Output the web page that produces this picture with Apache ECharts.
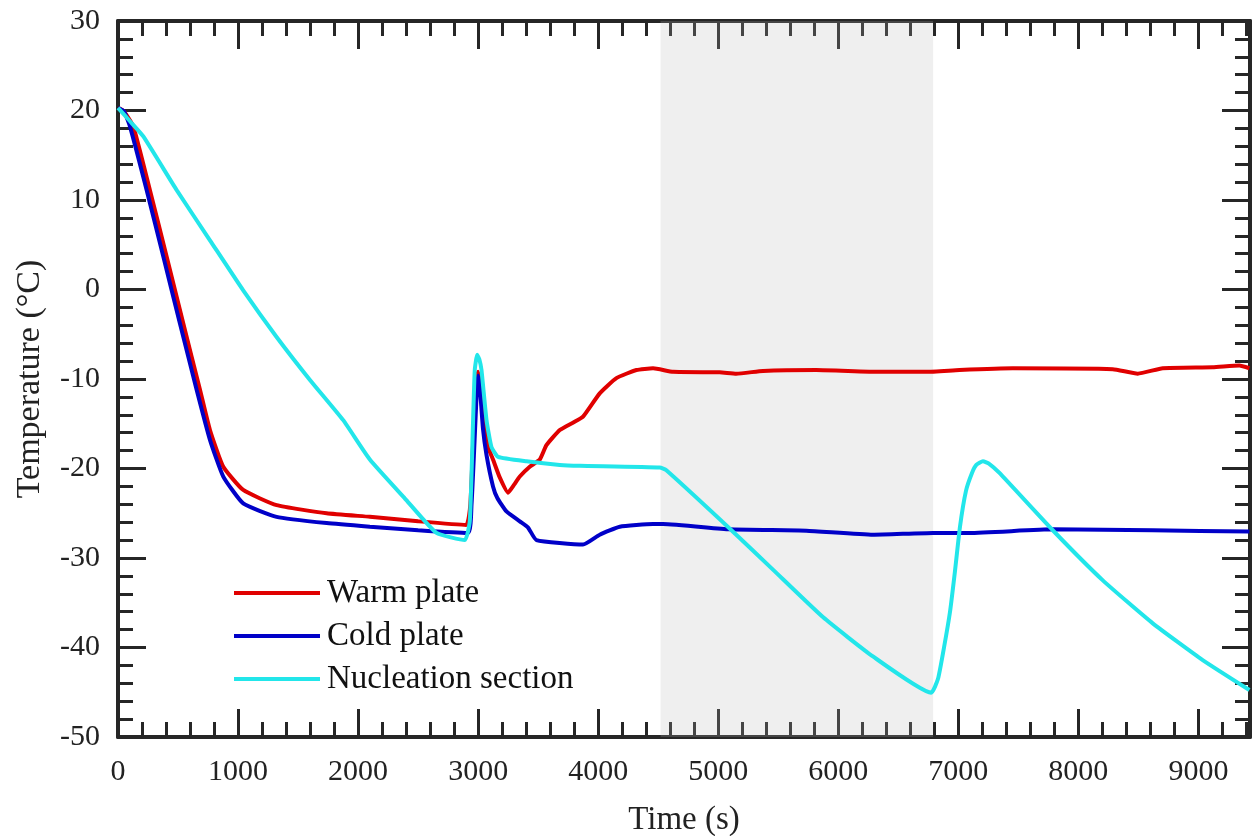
<!DOCTYPE html>
<html>
<head>
<meta charset="utf-8">
<script src="https://cdn.jsdelivr.net/npm/echarts@6/dist/echarts.min.js"></script>
<style>
    html, body { margin: 0; padding: 0; background: #fff; }
    #chart { width: 1254px; height: 836px; }
</style>
</head>
<body>
<div id="chart"></div>
<script>
    const seriesNames = ['Warm plate', 'Cold plate', 'Nucleation section'];
    const seriesColors = ['#e00000', '#0000c8', '#22e6ea'];

    // time (s) / temperature (°C)
    const warmTime = [0, 50, 128, 266, 405, 544, 683, 766, 877, 1043, 1321, 1738, 2098, 2500, 2900, 2935, 2965, 2990, 3000, 3015, 3045, 3083, 3124, 3180, 3249, 3300, 3347, 3430, 3514, 3569, 3680, 3800, 3874, 4013, 4152, 4319, 4457, 4624, 5012, 5151, 5373, 5817, 6344, 6733, 7010, 7454, 8287, 8495, 8703, 9119, 9341, 9425];
    const warmTemp = [20.3, 19.9, 18.2, 11.1, 3.7, -3.8, -11.2, -15.7, -19.8, -22.4, -24.1, -25.0, -25.4, -25.9, -26.3, -24, -15, -10, -9.2, -10.5, -14.5, -17.6, -19.0, -21, -22.7, -21.8, -20.9, -19.8, -19.0, -17.4, -15.7, -14.8, -14.2, -11.6, -9.9, -9.0, -8.8, -9.2, -9.25, -9.4, -9.1, -9.0, -9.2, -9.2, -9.0, -8.8, -8.9, -9.4, -8.8, -8.7, -8.5, -8.8];

    const coldTime = [0, 50, 100, 239, 377, 516, 655, 766, 877, 1043, 1321, 1738, 2098, 2500, 2917, 2945, 2970, 2990, 3000, 3015, 3040, 3070, 3124, 3160, 3236, 3347, 3416, 3486, 3874, 4013, 4180, 4457, 4540, 5095, 5734, 6289, 6789, 7094, 7787, 8620, 9425];
    const coldTemp = [20.3, 19.9, 18.2, 11.1, 3.7, -3.8, -11.2, -16.8, -20.9, -23.9, -25.4, -26.1, -26.5, -26.9, -27.2, -24, -17, -11, -9.6, -11, -15.5, -18.5, -22.0, -23.3, -24.8, -25.9, -26.6, -28.0, -28.5, -27.4, -26.5, -26.2, -26.2, -26.8, -26.95, -27.4, -27.2, -27.2, -26.8, -26.9, -27.05];

    const nuclTime = [0, 100, 211, 489, 766, 1043, 1321, 1599, 1876, 2098, 2400, 2653, 2889, 2931, 2958, 2972, 2992, 3010, 3028, 3070, 3111, 3167, 3403, 3680, 3847, 4513, 4568, 5095, 5456, 5872, 6289, 6774, 6831, 6881, 6931, 6972, 7014, 7064, 7114, 7150, 7205, 7260, 7343, 7787, 8204, 8620, 9036, 9425];
    const nuclTemp = [20.3, 18.8, 17.1, 11.1, 5.5, -0.1, -5.3, -10.1, -14.6, -19.0, -23.5, -27.2, -28.0, -25.8, -14.6, -9.0, -7.3, -7.8, -9.0, -14.6, -17.6, -18.7, -19.2, -19.6, -19.7, -19.9, -20.2, -26.7, -31.3, -36.6, -41.0, -45.05, -43.5, -40, -36, -31.5, -26.5, -22.5, -20.5, -19.6, -19.2, -19.5, -20.5, -26.9, -32.5, -37.3, -41.4, -44.75];

    // shaded time window
    const bandStart = 4520;
    const bandEnd = 6790;

    const xMax = 9430;
    const fontFamily = '"Liberation Serif", "Times New Roman", serif';
    const axisColor = '#262626';

    function zip(ts, vs) {
        return ts.map((t, i) => [t, vs[i]]);
    }

    function makeXAxis(position, major) {
        return {
            type: 'value',
            position: position,
            min: 0,
            max: xMax,
            interval: major ? 1000 : 200,
            axisLine: { show: major, onZero: false, lineStyle: { color: axisColor, width: 4 } },
            axisTick: { show: true, inside: true, length: major ? 28 : 15, lineStyle: { color: axisColor, width: 3 } },
            axisLabel: {
                show: major && position === 'bottom',
                showMaxLabel: false,
                margin: 20,
                formatter: (v) => String(v),
                fontFamily: fontFamily,
                fontSize: 30,
                color: '#222',
            },
            splitLine: { show: false },
            name: major && position === 'bottom' ? 'Time (s)' : '',
            nameLocation: 'middle',
            nameGap: 67,
            nameTextStyle: { fontFamily: fontFamily, fontSize: 33, color: '#222' },
        };
    }

    function makeYAxis(position) {
        return {
            type: 'value',
            position: position,
            min: -50,
            max: 30,
            interval: 10,
            axisLine: { show: true, onZero: false, lineStyle: { color: axisColor, width: 4 } },
            axisTick: { show: true, inside: true, length: 28, lineStyle: { color: axisColor, width: 3 } },
            minorTick: { show: true, splitNumber: 5, length: 15, lineStyle: { color: axisColor, width: 3 } },
            axisLabel: {
                show: position === 'left',
                margin: 18,
                fontFamily: fontFamily,
                fontSize: 30,
                color: '#222',
            },
            splitLine: { show: false },
            minorSplitLine: { show: false },
            name: position === 'left' ? 'Temperature (°C)' : '',
            nameLocation: 'middle',
            nameGap: 71,
            nameRotate: 90,
            nameTextStyle: { fontFamily: fontFamily, fontSize: 34, color: '#222' },
        };
    }

    function lineSeries(name, color, data, z) {
        return {
            name: name,
            type: 'line',
            data: data,
            showSymbol: false,
            symbol: 'none',
            smooth: 0.15,
            z: z,
            lineStyle: { color: color, width: 4 },
            itemStyle: { color: color },
        };
    }

    const chart = echarts.init(document.getElementById('chart'), null, { renderer: 'canvas' });

    chart.setOption({
        animation: false,
        backgroundColor: '#fff',
        grid: { left: 118, right: 4, top: 21, bottom: 99, containLabel: false, outerBoundsMode: 'none' },
        legend: {
            data: seriesNames,
            orient: 'vertical',
            left: 234,
            top: 576,
            padding: 0,
            icon: 'rect',
            itemWidth: 86,
            itemHeight: 4,
            itemGap: 9,
            textStyle: { fontFamily: fontFamily, fontSize: 33, color: '#111', lineHeight: 34, padding: [0, 0, 0, 2] },
        },
        xAxis: [
            makeXAxis('bottom', true),
            makeXAxis('bottom', false),
            makeXAxis('top', true),
            makeXAxis('top', false),
        ],
        yAxis: [makeYAxis('left'), makeYAxis('right')],
        series: [
            lineSeries(seriesNames[0], seriesColors[0], zip(warmTime, warmTemp), 2),
            lineSeries(seriesNames[1], seriesColors[1], zip(coldTime, coldTemp), 2),
            {
                name: 'band',
                type: 'line',
                data: [],
                z: 3,
                silent: true,
                markArea: {
                    silent: true,
                    itemStyle: { color: 'rgba(180,180,180,0.22)' },
                    data: [[{ xAxis: bandStart }, { xAxis: bandEnd }]],
                },
            },
            lineSeries(seriesNames[2], seriesColors[2], zip(nuclTime, nuclTemp), 4),
        ],
    });
</script>
</body>
</html>
